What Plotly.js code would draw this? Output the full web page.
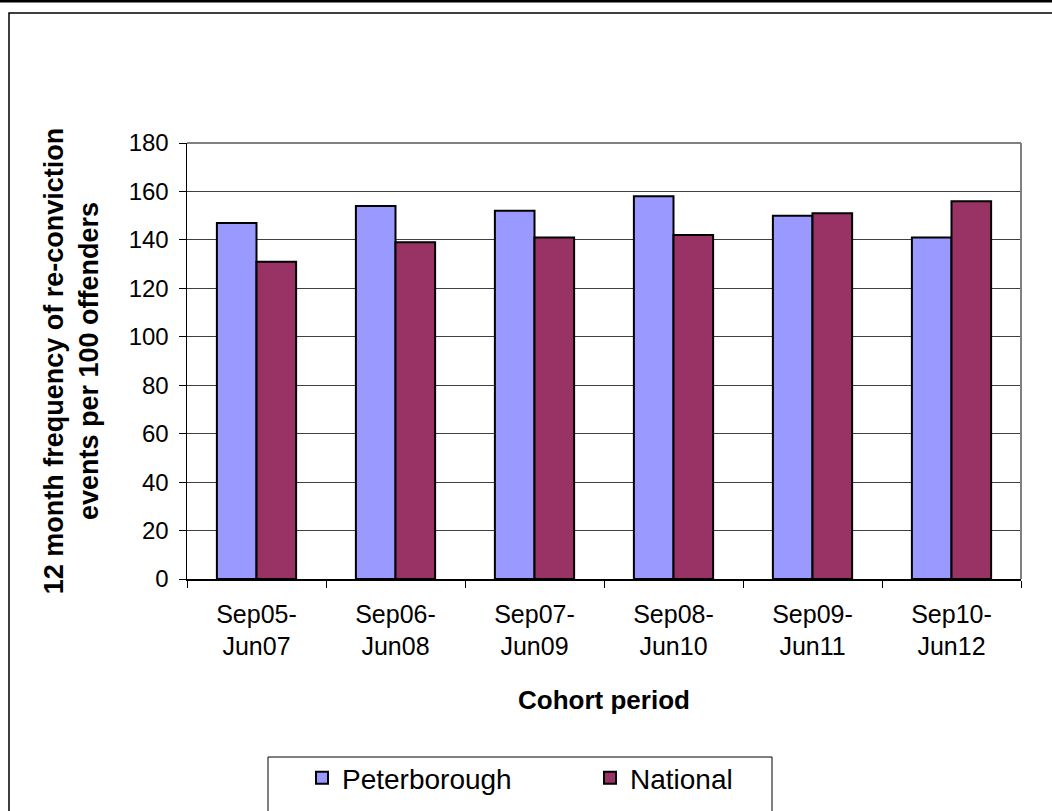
<!DOCTYPE html>
<html>
<head>
<meta charset="utf-8">
<script src="https://cdn.plot.ly/plotly-3.0.1.min.js"></script>
<style>
html,body{margin:0;padding:0;background:#fff;}
#chart{width:1052px;height:811px;}
</style>
</head>
<body>
<div id="chart"></div>
<script>
const categories = ["Sep05-<br>Jun07", "Sep06-<br>Jun08", "Sep07-<br>Jun09", "Sep08-<br>Jun10", "Sep09-<br>Jun11", "Sep10-<br>Jun12"];
const peterborough = [147, 154, 152, 158, 150, 141];
const national = [131, 139, 141, 142, 151, 156];
const yTickVals = [0, 20, 40, 60, 80, 100, 120, 140, 160, 180];

const FONT = "Liberation Sans, Arial, sans-serif";

// plot area in pixels
const L = 187, R = 1021, T = 143, B = 579;
const W = R - L, H = B - T;
const px = x => (x - L) / W;
const py = y => (B - y) / H;

const traces = [
  {
    type: "bar", name: "Peterborough", x: categories, y: peterborough,
    marker: {color: "#9999FF", line: {color: "#000000", width: 2}}
  },
  {
    type: "bar", name: "National", x: categories, y: national,
    marker: {color: "#993366", line: {color: "#000000", width: 2}}
  }
];

const layout = {
  width: 1052, height: 811,
  margin: {l: L, r: 1052 - R, t: T, b: 811 - B, pad: 0, autoexpand: false},
  paper_bgcolor: "#ffffff", plot_bgcolor: "#ffffff",
  font: {family: FONT, color: "#000000"},
  barmode: "group", bargap: 0.43, bargroupgap: 0,
  showlegend: true,
  legend: {
    orientation: "h", xref: "container", yref: "container",
    x: 302 / 1052, y: (811 - 753) / 811, xanchor: "left", yanchor: "top",
    font: {family: FONT, size: 28, color: "#000"},
    bgcolor: "rgba(0,0,0,0)", borderwidth: 0,
    entrywidth: 243, entrywidthmode: "pixels"
  },
  xaxis: {
    type: "category", tickson: "boundaries",
    ticks: "outside", ticklen: 7, tickcolor: "#000", tickwidth: 1,
    ticklabelstandoff: 12,
    showline: true, linecolor: "#000", linewidth: 1.5,
    showgrid: false, zeroline: false,
    tickfont: {family: FONT, size: 25, color: "#000"},
    title: {text: "<b>Cohort period</b>", font: {family: FONT, size: 26, color: "#000"}, standoff: 32},
    fixedrange: true
  },
  yaxis: {
    range: [0, 180], tickvals: yTickVals, ticktext: yTickVals.map(String),
    ticks: "outside", ticklen: 7, tickcolor: "#000", tickwidth: 1,
    ticklabelstandoff: 5,
    showline: true, linecolor: "#000", linewidth: 1.5,
    showgrid: true, gridcolor: "#404040", gridwidth: 1, zeroline: false,
    tickfont: {family: FONT, size: 24, color: "#000"},
    title: {text: "<b>12 month frequency of re-conviction<br>events per 100 offenders</b>", font: {family: FONT, size: 27, color: "#000"}, standoff: 22},
    fixedrange: true
  },
  shapes: [
    // top black band
    {type: "line", xref: "paper", yref: "paper", x0: px(-5), x1: px(1060), y0: py(1), y1: py(1), line: {color: "#000", width: 3}},
    // outer frame
    {type: "rect", xref: "paper", yref: "paper", x0: px(9), x1: px(1070), y0: py(840), y1: py(13), line: {color: "#000", width: 1.5}},
    // plot area top & right (grey)
    {type: "line", xref: "paper", yref: "paper", x0: 0, x1: 1, y0: 1, y1: 1, line: {color: "#808080", width: 2}},
    {type: "line", xref: "paper", yref: "paper", x0: 1, x1: 1, y0: 0, y1: 1, line: {color: "#808080", width: 2}},
    // legend box
    {type: "rect", xref: "paper", yref: "paper", x0: px(268), x1: px(772), y0: py(840), y1: py(757), line: {color: "#000", width: 1}}
  ]
};

Plotly.newPlot("chart", traces, layout, {displayModeBar: false, staticPlot: true});
</script>
</body>
</html>
